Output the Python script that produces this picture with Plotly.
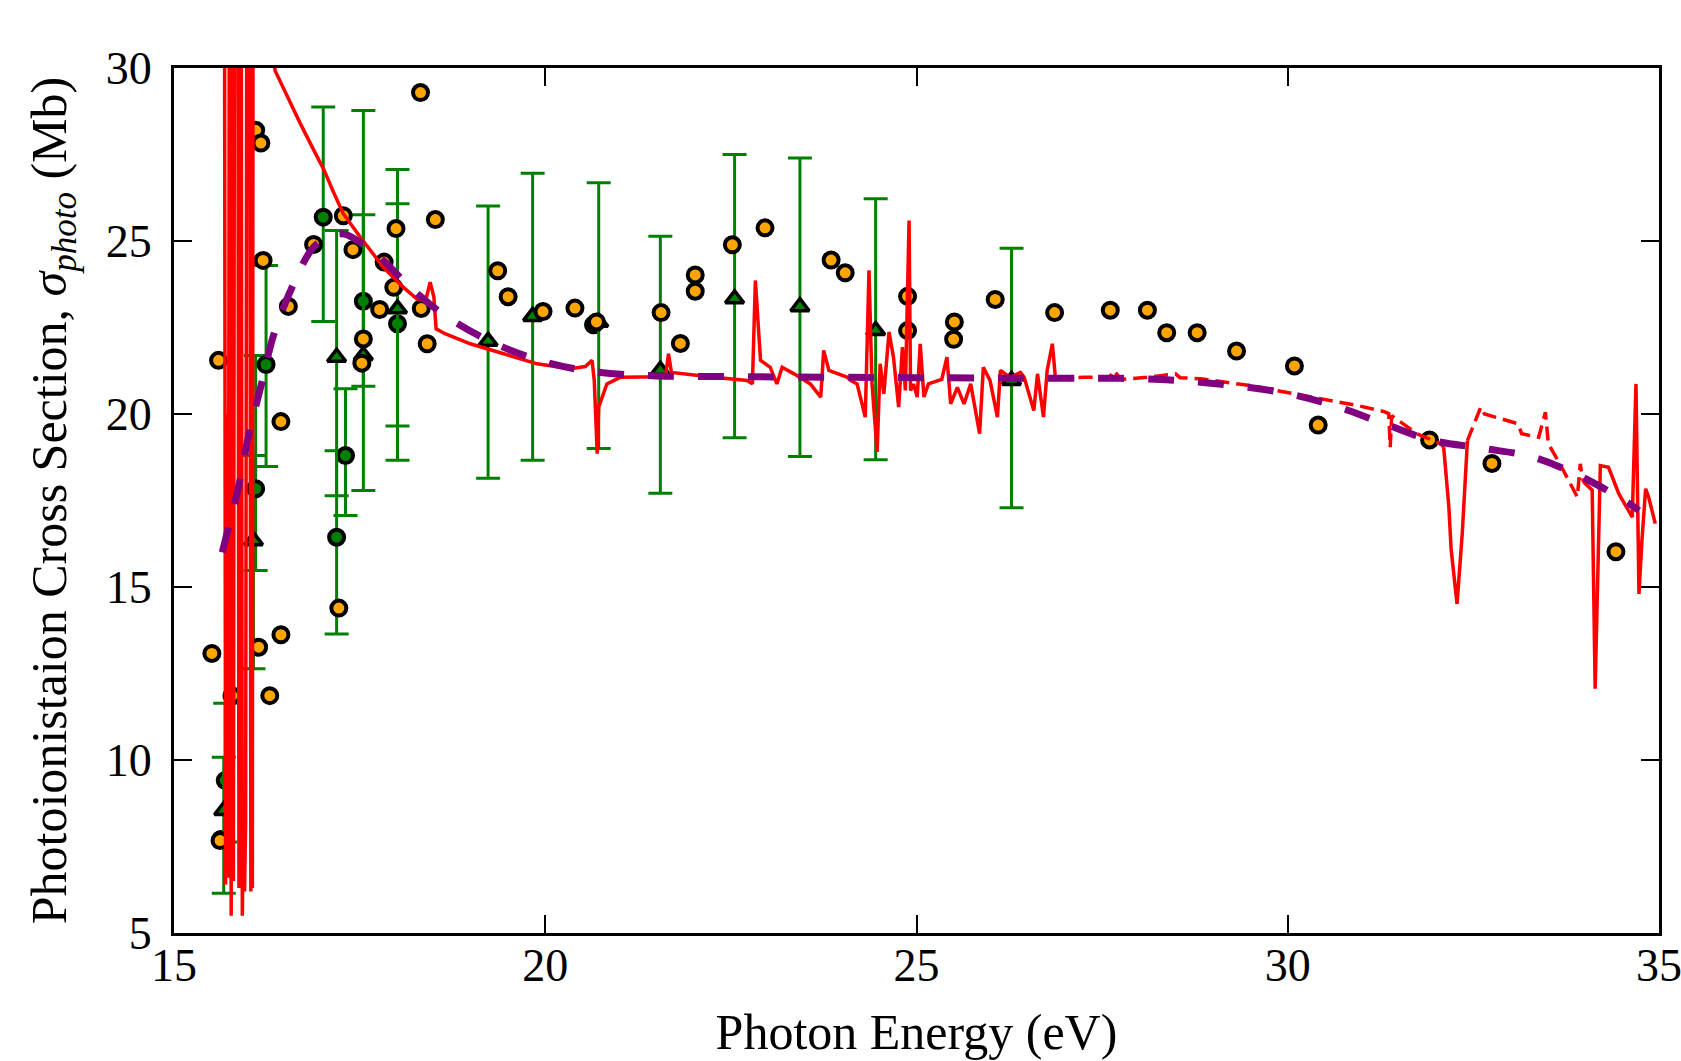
import plotly.graph_objects as go

# ---------------- data ----------------
# Theory (red) curve, solid part
red_x = [15.68, 15.695, 15.71, 15.73, 15.745, 15.77, 15.785, 15.80, 15.815, 15.86, 15.875, 15.89,
         15.905, 15.92, 15.935, 15.95, 15.965, 15.98, 16.0, 16.02, 16.035, 16.045, 16.055, 16.065, 16.08,
         16.30, 16.36, 16.55, 16.70, 16.86, 17.02, 17.15, 17.28, 17.51, 17.82, 18.09, 18.27, 18.39, 18.45,
         18.50, 18.53, 18.65,
         18.99, 19.44, 19.89, 20.34, 20.54, 20.63, 20.66, 20.70, 20.72, 20.83, 21.01, 21.55, 21.62, 21.66,
         21.70, 22.27, 22.72, 22.79, 22.83, 22.87, 22.90, 23.03, 23.12, 23.19, 23.35, 23.57, 23.71, 23.75,
         23.82, 24.07, 24.11, 24.20, 24.31, 24.36, 24.40, 24.47, 24.51, 24.56, 24.63, 24.69, 24.76, 24.81,
         24.85, 24.90, 24.92, 24.96, 25.01, 25.05, 25.10, 25.16, 25.28, 25.34, 25.41, 25.46, 25.55, 25.64,
         25.73, 25.78, 25.85, 25.90, 25.99, 26.09, 26.13, 26.26, 26.40, 26.45, 26.58, 26.63, 26.71, 26.76,
         26.83, 26.87, 26.90]
red_y = [33, 6.4, 20, 6.6, 33, 5.5, 30, 6.5, 33, 33, 6.3, 33,
         33, 5.5, 8.2, 6.2, 8.2, 33, 33, 33, 6.2, 8.2, 6.3, 33, 33,
         33, 29.93, 29.05, 28.40, 27.72, 27.05, 26.40, 25.79, 25.11, 24.24, 23.66, 23.33, 23.28, 23.81,
         23.38, 22.46, 22.32,
         22.03, 21.74, 21.45, 21.31, 21.37, 21.55, 20.97, 18.85, 20.2, 20.87, 21.06, 21.08, 21.10, 21.74,
         21.20, 21.06, 20.97, 20.87, 23.86, 22.51, 21.55, 21.35, 20.87, 21.35, 21.16, 20.87, 20.49, 21.84,
         21.26, 21.06, 20.97, 20.87, 19.91, 24.15, 20.90, 18.90, 21.45, 20.58, 22.37, 21.64, 20.20, 21.93,
         20.68, 25.59, 20.68, 20.87, 20.49, 22.03, 20.49, 20.87, 20.97, 21.00, 21.64, 20.29, 20.77, 20.29,
         20.87, 20.29, 19.43, 21.35, 20.97, 19.91, 21.26, 21.06, 21.20, 21.06, 20.10, 21.16, 19.91, 21.26,
         22.03, 21.06, 21.03]

# Theory (red) curve, broken high-energy part
red2_x = [26.90, 27.25, 27.60, 27.66, 27.75, 28.10, 28.49, 28.55, 28.82, 29.50, 30.22, 30.93, 31.30,
          31.36, 31.38, 31.40, 31.74, 32.06, 32.10]
red2_y = [21.03, 21.06, 21.06, 21.26, 21.00, 21.06, 21.16, 21.05, 21.02, 20.82, 20.53, 20.25, 20.07,
          20.01, 19.04, 19.95, 19.43, 19.14, 19.04]

red3_x = [32.10, 32.17, 32.20, 32.28, 32.35, 32.42]
red3_y = [19.04, 17.31, 16.10, 14.51, 16.54, 19.23]

red4_x = [32.42, 32.60, 32.65, 33.10, 33.15, 33.38, 33.47, 33.51, 33.69, 33.90, 33.94, 33.97]
red4_y = [19.23, 20.20, 20.00, 19.72, 19.43, 19.33, 20.05, 19.14, 18.46, 17.60, 18.56, 18.10]

red5_x = [33.97, 34.00, 34.10, 34.14, 34.21, 34.32, 34.46, 34.64, 34.69, 34.73, 34.77, 34.82, 34.86, 34.95]
red5_y = [18.10, 18.00, 17.80, 12.06, 18.51, 18.46, 17.69, 17.02, 20.87, 14.80, 16.34, 17.84, 17.60, 16.83]

# Model (purple dashed) curve
purple_x = [15.65, 15.72, 15.87, 16.00, 16.19, 16.34, 16.61, 16.88, 17.13, 17.30, 17.60, 17.82, 18.18,
            18.68, 19.33, 20.00, 20.70, 21.50, 22.50, 24.00, 25.00, 26.00, 27.00, 27.77, 28.49, 29.18,
            29.90, 30.58, 31.25, 31.92, 32.62, 33.31, 33.97, 34.57, 34.73]
purple_y = [16.00, 16.60, 17.90, 19.33, 20.97, 22.27, 23.76, 24.82, 25.16, 25.20, 24.82, 24.44, 23.66,
            22.80, 22.03, 21.50, 21.21, 21.10, 21.08, 21.06, 21.05, 21.04, 21.03, 21.03, 20.97, 20.84,
            20.63, 20.27, 19.76, 19.25, 19.01, 18.75, 18.17, 17.45, 17.21]

# Experiment A (orange circles)
orange_x = [15.51, 15.60, 15.62, 15.78, 16.10, 16.17, 16.20, 16.14, 16.29, 16.44, 16.44, 16.54, 16.88,
            17.28, 17.41, 17.22, 17.53, 17.55, 17.77, 17.83, 17.96, 17.99, 18.32, 18.33, 18.41, 18.52,
            19.36, 19.50, 19.97, 20.40, 20.69, 21.56, 21.82, 22.02, 22.02, 22.52, 22.96, 23.85, 24.04,
            24.88, 24.88, 25.51, 25.50, 26.06, 26.86, 27.61, 28.11, 28.37, 28.78, 29.31, 30.09, 30.41,
            31.91, 32.75, 34.42]
orange_y = [13.08, 21.55, 7.67, 11.86, 28.20, 27.83, 24.44, 13.26, 11.86, 19.78, 13.62, 23.11, 24.90,
            25.73, 24.75, 14.39, 21.47, 22.17, 23.02, 24.39, 23.66, 25.36, 29.29, 23.05, 22.03, 25.62,
            24.14, 23.39, 22.96, 23.06, 22.66, 22.93, 22.04, 24.02, 23.55, 24.89, 25.38, 24.45, 24.08,
            23.40, 22.41, 22.66, 22.16, 23.31, 22.93, 23.00, 23.00, 22.35, 22.35, 21.82, 21.39, 19.68,
            19.25, 18.57, 16.02]

# Experiment B (green circles, with error bars)
green_x = [15.69, 16.10, 16.24, 17.01, 17.19, 17.31, 17.55, 18.01]
green_y = [9.41, 17.84, 21.43, 25.69, 16.44, 18.80, 23.26, 22.61]
green_err_plus = [2.23, 3.85, 2.86, 3.18, 2.50, 1.93, 5.51, 4.46]
green_err_minus = [1.78, 2.36, 2.95, 3.02, 2.80, 1.73, 2.46, 3.95]
green2_x = [15.63, 20.65]
green2_y = [7.70, 22.58]

# Experiment C (triangles, with error bars)
tri_x = [15.67, 16.07, 17.19, 17.55, 18.01, 19.23, 19.83, 20.72, 21.55, 22.55, 23.43, 24.45, 26.28]
tri_y = [8.54, 16.34, 21.64, 21.69, 23.04, 22.10, 22.82, 22.65, 21.26, 23.33, 23.10, 22.41, 20.97]
tri_err_plus = [1.54, 2.46, 3.66, 4.07, 3.04, 3.91, 4.14, 4.03, 3.88, 4.17, 4.30, 3.81, 3.82]
tri_err_minus = [2.39, 3.70, 4.00, 3.90, 3.39, 3.96, 4.16, 3.65, 3.55, 4.02, 4.33, 3.73, 3.68]

x_ticks = [15, 20, 25, 30, 35]
y_ticks = [5, 10, 15, 20, 25, 30]

# ---------------- figure ----------------
GREEN = "#008000"
ORANGE = "#FFA500"
RED = "#FF0000"
err_style = dict(type="data", symmetric=False, color=GREEN, thickness=3, width=12)

fig = go.Figure()

fig.add_trace(go.Scatter(
    x=green_x, y=green_y, mode="markers",
    marker=dict(symbol="circle", size=15, color=GREEN, line=dict(color="black", width=4)),
    error_y=dict(array=green_err_plus, arrayminus=green_err_minus, **err_style),
    showlegend=False))
fig.add_trace(go.Scatter(
    x=green2_x, y=green2_y, mode="markers",
    marker=dict(symbol="circle", size=15, color=GREEN, line=dict(color="black", width=4)),
    showlegend=False))
fig.add_trace(go.Scatter(
    x=tri_x, y=tri_y, mode="markers",
    marker=dict(symbol="triangle-up", size=16, color=GREEN, line=dict(color="black", width=3.5)),
    error_y=dict(array=tri_err_plus, arrayminus=tri_err_minus, **err_style),
    showlegend=False))
fig.add_trace(go.Scatter(
    x=orange_x, y=orange_y, mode="markers",
    marker=dict(symbol="circle", size=15, color=ORANGE, line=dict(color="black", width=4)),
    showlegend=False))
fig.add_trace(go.Scatter(
    x=red_x, y=red_y, mode="lines",
    line=dict(color=RED, width=3.5), showlegend=False))
fig.add_trace(go.Scatter(
    x=red2_x, y=red2_y, mode="lines",
    line=dict(color=RED, width=3.5, dash="14px,7px"), showlegend=False))
fig.add_trace(go.Scatter(
    x=red3_x, y=red3_y, mode="lines",
    line=dict(color=RED, width=3.5), showlegend=False))
fig.add_trace(go.Scatter(
    x=red4_x, y=red4_y, mode="lines",
    line=dict(color=RED, width=3.5, dash="14px,7px"), showlegend=False))
fig.add_trace(go.Scatter(
    x=red5_x, y=red5_y, mode="lines",
    line=dict(color=RED, width=3.5), showlegend=False))
fig.add_trace(go.Scatter(
    x=purple_x, y=purple_y, mode="lines", line_shape="spline",
    line=dict(color="#800080", width=7, dash="26px,24px"), showlegend=False))

FONT = "Liberation Serif"
axis_common = dict(
    showline=True, linecolor="black", linewidth=3, mirror="ticks",
    ticks="inside", ticklen=18, tickwidth=1.5, tickcolor="black",
    showgrid=False, zeroline=False, ticklabeloverflow="allow", automargin=False,
    tickfont=dict(family=FONT, size=46, color="black"),
)

fig.update_layout(
    width=1681, height=1061,
    margin=dict(l=174, r=22, t=68, b=128),
    paper_bgcolor="white", plot_bgcolor="white",
    font=dict(family=FONT, color="black"),
    xaxis=dict(range=[15, 35], tickvals=x_ticks, ticktext=[str(v) for v in x_ticks],
               title=dict(text="Photon Energy (eV)", font=dict(family=FONT, size=50), standoff=24),
               ticklabelstandoff=-10, **axis_common),
    yaxis=dict(range=[5, 30], tickvals=y_ticks, ticktext=[str(v) for v in y_ticks],
               title=dict(text="Photoionistaion Cross Section, <i>σ</i><sub><i>photo</i></sub> (Mb)",
                          font=dict(family=FONT, size=50), standoff=24),
               ticklabelstandoff=10, **axis_common),
)

fig.write_html("out.html", config={"displayModeBar": False},
               post_script="document.body.style.margin='0';document.body.style.overflow='hidden';")
